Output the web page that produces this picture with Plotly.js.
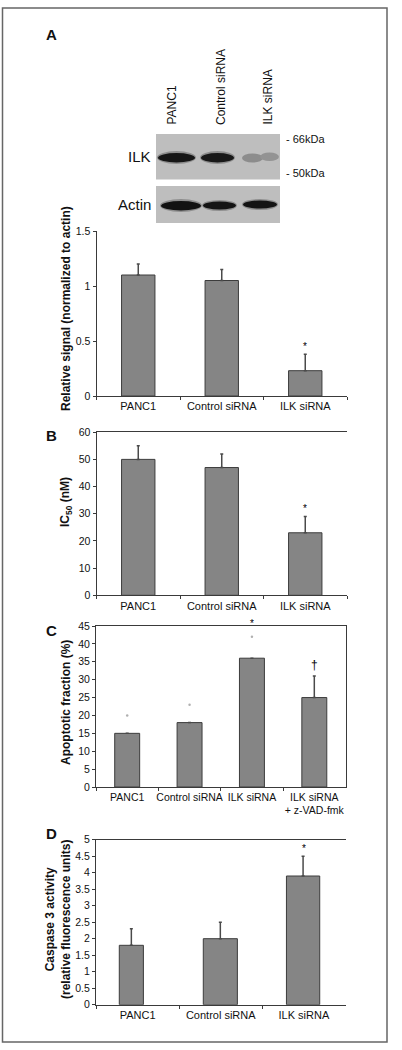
<!DOCTYPE html>
<html>
<head>
<meta charset="utf-8">
<script src="https://cdn.plot.ly/plotly-3.0.1.min.js"></script>
<style>html,body{margin:0;padding:0;background:#fff;}#chart{width:402px;height:1050px;}</style>
</head>
<body>
<div id="chart"></div>
<script>
// ---------- DATA ----------
var catsABD = ['PANC1', 'Control siRNA', 'ILK siRNA'];
var catsC = ['PANC1', 'Control siRNA', 'ILK siRNA', 'ILK siRNA<br>+ z-VAD-fmk'];

var valA = [1.10, 1.05, 0.23];
var errA = [0.10, 0.10, 0.15];
var sigA = ['', '', '*'];

var valB = [50, 47, 23];
var errB = [5, 5, 6];
var sigB = ['', '', '*'];

var valC = [15, 18, 36, 25];
var errC = [0, 0, 0, 6];          // visible error bars
var faintC = [20, 23, 42];        // faint remnants of error caps
var sigC = ['', '', '*', '†'];

var valD = [1.8, 2.0, 3.9];
var errD = [0.5, 0.5, 0.6];
var sigD = ['', '', '*'];

var laneLabels = ['PANC1', 'Control siRNA', 'ILK siRNA'];
var kDaLabels = ['- 66kDa', '- 50kDa'];

// ---------- HELPERS ----------
var W = 402, H = 1050;
function PX(x){ return x / W; }
function PY(y){ return 1 - y / H; }
var FONT = 'Liberation Sans, Arial, Helvetica, sans-serif';
var barFill = '#858585', barLine = '#3c3c3c', errCol = '#4a4a4a', axCol = '#3a3a3a';

function xAx(dom, yname, mirror, fs){
  return {domain: dom, anchor: yname, type: 'category', showline: true, linecolor: axCol, linewidth: 1,
    mirror: mirror, ticks: 'outside', tickson: 'boundaries', ticklen: 3, tickcolor: axCol, tickangle: 0,
    tickfont: {family: FONT, size: fs, color: '#111'}, showgrid: false, zeroline: false, fixedrange: true};
}
function yAx(dom, xname, range, dtick, mirror){
  return {domain: dom, anchor: xname, range: range, dtick: dtick, showline: true, linecolor: axCol, linewidth: 1,
    mirror: mirror, ticks: 'outside', ticklen: 3, tickcolor: axCol,
    tickfont: {family: FONT, size: 10.5, color: '#111'}, showgrid: false, zeroline: false, fixedrange: true};
}
function barTrace(cats, vals, errs, xa, ya, extra){
  var t = {type: 'bar', x: cats, y: vals, xaxis: xa, yaxis: ya,
    marker: {color: barFill, line: {color: barLine, width: 1}},
    error_y: {type: 'data', symmetric: false, array: errs, arrayminus: errs.map(function(){return 0;}),
      color: errCol, thickness: 1.5, width: 1.5},
    hoverinfo: 'skip', showlegend: false};
  for (var k in extra) t[k] = extra[k];
  return t;
}

var traces = [
  barTrace(catsABD, valA, errA, 'x', 'y', {}),
  barTrace(catsABD, valB, errB, 'x2', 'y2', {}),
  barTrace(catsC, valC, errC, 'x3', 'y3', {}),
  {type: 'scatter', mode: 'markers', x: catsC.slice(0, 3), y: faintC, xaxis: 'x3', yaxis: 'y3',
    marker: {size: 2.5, color: '#b0b0b0'}, hoverinfo: 'skip', showlegend: false},
  barTrace(catsABD, valD, errD, 'x4', 'y4', {width: [0.29, 0.41, 0.40], offset: [-0.22, -0.21, -0.21]})
];

// ---------- ANNOTATIONS ----------
var ann = [];
function sigAnn(cats, vals, errs, sig, xa, ya){
  for (var i = 0; i < cats.length; i++){
    if (!sig[i]) continue;
    var dag = sig[i] === '†';
    ann.push({xref: xa, yref: ya, x: cats[i], y: vals[i] + errs[i], text: sig[i], showarrow: false,
      yanchor: 'bottom', yshift: dag ? 2 : 0,
      font: {family: FONT, size: dag ? 12 : 10, color: '#000'}});
  }
}
sigAnn(catsABD, valA, errA, sigA, 'x', 'y');
sigAnn(catsABD, valB, errB, sigB, 'x2', 'y2');
sigAnn(catsC, valC, [0, 0, 6 + 1.5, 6], sigC, 'x3', 'y3');
sigAnn(catsABD, valD, errD, sigD, 'x4', 'y4');

function txt(x, y, s, opt){
  var a = {xref: 'paper', yref: 'paper', x: PX(x), y: PY(y), text: s, showarrow: false,
    xanchor: 'center', yanchor: 'middle', font: {family: FONT, size: 12, color: '#111'}};
  for (var k in opt) a[k] = opt[k];
  ann.push(a);
}
// panel letters
txt(44, 35, '<b>A</b>', {xanchor: 'left', font: {family: FONT, size: 15, color: '#111'}});
txt(44, 436, '<b>B</b>', {xanchor: 'left', font: {family: FONT, size: 15, color: '#111'}});
txt(44, 630, '<b>C</b>', {xanchor: 'left', font: {family: FONT, size: 15, color: '#111'}});
txt(44, 833, '<b>D</b>', {xanchor: 'left', font: {family: FONT, size: 15, color: '#111'}});
// axis titles
txt(66, 309, '<b>Relative signal (normalized to actin)</b>', {textangle: -90});
txt(66, 502, '<b>IC<sub>50</sub> (nM)</b>', {textangle: -90});
txt(66, 703, '<b>Apoptotic fraction (%)</b>', {textangle: -90});
txt(58, 920, '<b>Caspase 3 activity<br>(relative fluorescence units)</b>', {textangle: -90});
// blot labels
var laneX = [172, 221, 268];
for (var i = 0; i < laneLabels.length; i++){
  txt(laneX[i], 127, laneLabels[i], {textangle: -90, yanchor: 'bottom'});
}
txt(284, 139, kDaLabels[0], {xanchor: 'left', font: {family: FONT, size: 11, color: '#111'}});
txt(284, 173, kDaLabels[1], {xanchor: 'left', font: {family: FONT, size: 11, color: '#111'}});
txt(153, 156, 'ILK', {xanchor: 'right', font: {family: FONT, size: 15, color: '#111'}});
txt(153, 205, 'Actin', {xanchor: 'right', font: {family: FONT, size: 15, color: '#111'}});

// ---------- SHAPES (frame + blot picture) ----------
var shapes = [];
function rect(x0, y0, x1, y1, fill, line){
  shapes.push({type: 'rect', xref: 'paper', yref: 'paper', x0: PX(x0), x1: PX(x1), y0: PY(y1), y1: PY(y0),
    fillcolor: fill, line: line || {width: 0}, layer: 'below'});
}
function band(x0, y0, x1, y1, fill, op){
  shapes.push({type: 'circle', xref: 'paper', yref: 'paper', x0: PX(x0), x1: PX(x1), y0: PY(y1), y1: PY(y0),
    fillcolor: fill, opacity: op === undefined ? 1 : op, line: {width: 0}, layer: 'above'});
}
shapes.push({type: 'rect', xref: 'paper', yref: 'paper', x0: PX(2.5), x1: PX(387), y0: PY(1042), y1: PY(8),
  line: {color: '#666', width: 1.5}, fillcolor: 'rgba(0,0,0,0)'});
rect(156, 134, 280, 179.5, '#bebebe');
rect(156, 186, 280, 223, '#bebebe');
// ILK bands
band(157, 151, 196, 164, '#555', 0.45);
band(158, 153, 195, 162.5, '#161616');
band(200, 151, 235, 164, '#555', 0.45);
band(201, 153, 234, 162.5, '#181818');
band(242, 153.5, 263, 162.5, '#8c8c8c');
band(260, 152.5, 279, 161, '#939393');
// Actin bands
band(160, 199, 202, 212, '#555', 0.45);
band(161, 201, 201, 210.5, '#121212');
band(202, 200, 237, 211, '#555', 0.45);
band(203, 201.5, 236, 209.5, '#141414');
band(242, 199, 278, 210, '#555', 0.45);
band(243, 200.5, 277, 208.5, '#141414');

var layout = {
  width: W, height: H, margin: {l: 0, r: 0, t: 0, b: 0},
  paper_bgcolor: '#fff', plot_bgcolor: 'rgba(0,0,0,0)',
  font: {family: FONT, color: '#111'},
  bargap: 0.6, showlegend: false,
  xaxis:  xAx([PX(96.5), PX(347)], 'y', false, 11),
  yaxis:  yAx([PY(396), PY(231)], 'x', [0, 1.5], 0.5, false),
  xaxis2: xAx([PX(96.5), PX(347)], 'y2', true, 11),
  yaxis2: yAx([PY(595.3), PY(432.2)], 'x2', [0, 60], 10, false),
  xaxis3: xAx([PX(96), PX(345.5)], 'y3', true, 10.5),
  yaxis3: yAx([PY(787), PY(626)], 'x3', [0, 45], 5, true),
  xaxis4: xAx([PX(96), PX(345.5)], 'y4', true, 11),
  yaxis4: yAx([PY(1004.7), PY(839.7)], 'x4', [0, 5], 0.5, false),
  annotations: ann, shapes: shapes
};

Plotly.newPlot('chart', traces, layout, {staticPlot: true, displayModeBar: false});
</script>
</body>
</html>
